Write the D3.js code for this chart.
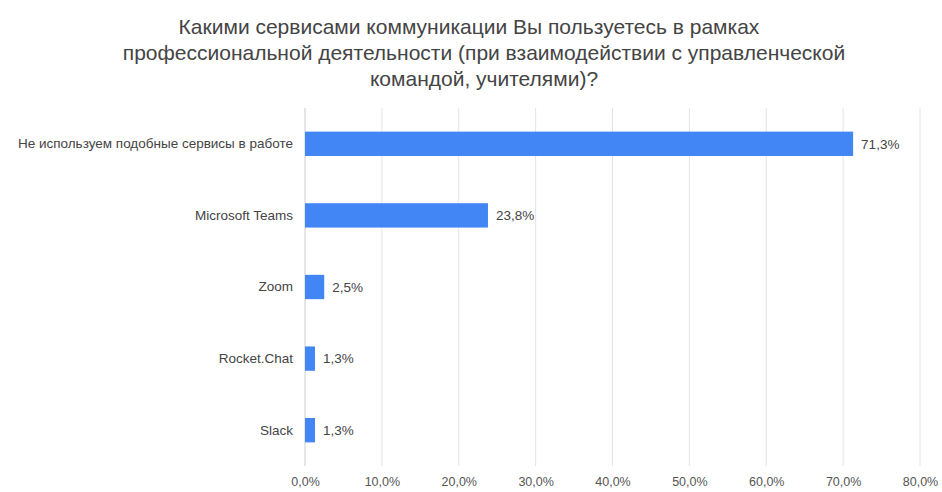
<!DOCTYPE html>
<meta charset="utf-8">
<head>
  <style>
  body { margin: 0; background: #fff; }
  text { font-family: "Liberation Sans", Arial, sans-serif; }
  </style>
</head>
<html>
  <body>
    <svg width="942" height="492"></svg>
  </body>
</html>
<script src="https://d3js.org/d3.v7.min.js"></script>
<script>
var titleLines = [
  "Какими сервисами коммуникации  Вы пользуетесь в рамках",
  "профессиональной деятельности (при взаимодействии с управленческой",
  "командой, учителями)?"
];
var categories = [
  "Не используем подобные сервисы в работе",
  "Microsoft Teams",
  "Zoom",
  "Rocket.Chat",
  "Slack"
];
var values = [71.3, 23.8, 2.5, 1.3, 1.3];
var tickValues = [0, 10, 20, 30, 40, 50, 60, 70, 80];

var svg = d3.select("svg"),
    margin = {top: 108, right: 22, bottom: 26, left: 305},
    width = +svg.attr("width") - margin.left - margin.right,
    height = +svg.attr("height") - margin.top - margin.bottom,
    g = svg.append("g").attr("transform", "translate(" + margin.left + "," + margin.top + ")");

var fmt = function(v) { return d3.format(".1f")(v).replace(".", ",") + "%"; };

var x = d3.scaleLinear().domain([0, 80]).range([0, width]);
var y = d3.scaleBand().domain(categories).range([0, height]).paddingInner(0.66).paddingOuter(0.33);

// title (first line sits a bit left of centre in the original)
svg.append("text")
    .attr("x", 484)
    .attr("y", 34)
    .attr("text-anchor", "middle")
    .attr("font-size", 21)
    .attr("fill", "#444")
  .selectAll("tspan")
  .data(titleLines)
  .join("tspan")
    .attr("x", function(d, i) { return i ? 484 : 469; })
    .attr("dy", function(d, i) { return i ? 26 : 0; })
    .text(function(d) { return d; });

// grid
g.append("g")
  .selectAll("line")
  .data(tickValues)
  .join("line")
    .attr("x1", function(d) { return x(d); })
    .attr("x2", function(d) { return x(d); })
    .attr("y1", 0)
    .attr("y2", height)
    .attr("stroke", function(d) { return d === 0 ? "#ccc" : "#e4e4e4"; })
    .attr("stroke-width", 1);

// x axis
var xAxis = g.append("g")
    .attr("transform", "translate(0," + height + ")")
    .call(d3.axisBottom(x).tickValues(tickValues).tickFormat(fmt).tickSize(0).tickPadding(11));
xAxis.select(".domain").remove();
xAxis.selectAll("text")
    .attr("font-size", 12.5)
    .attr("font-family", "Liberation Sans, Arial, sans-serif")
    .attr("fill", "#555");

// y axis
var yAxis = g.append("g")
    .call(d3.axisLeft(y).tickSize(0).tickPadding(12));
yAxis.select(".domain").remove();
yAxis.selectAll("text")
    .attr("font-size", 13.5)
    .attr("font-family", "Liberation Sans, Arial, sans-serif")
    .attr("fill", "#444");

// bars
g.selectAll(".bar")
  .data(values)
  .join("rect")
    .attr("class", "bar")
    .attr("x", x(0))
    .attr("y", function(d, i) { return y(categories[i]); })
    .attr("width", function(d) { return x(d) - x(0); })
    .attr("height", y.bandwidth())
    .attr("fill", "#4285f4");

// value labels
g.selectAll(".lbl")
  .data(values)
  .join("text")
    .attr("class", "lbl")
    .attr("x", function(d) { return x(d) + 8; })
    .attr("y", function(d, i) { return y(categories[i]) + y.bandwidth() / 2; })
    .attr("dy", "0.35em")
    .attr("font-size", 13.5)
    .attr("fill", "#444")
    .text(fmt);
</script>
